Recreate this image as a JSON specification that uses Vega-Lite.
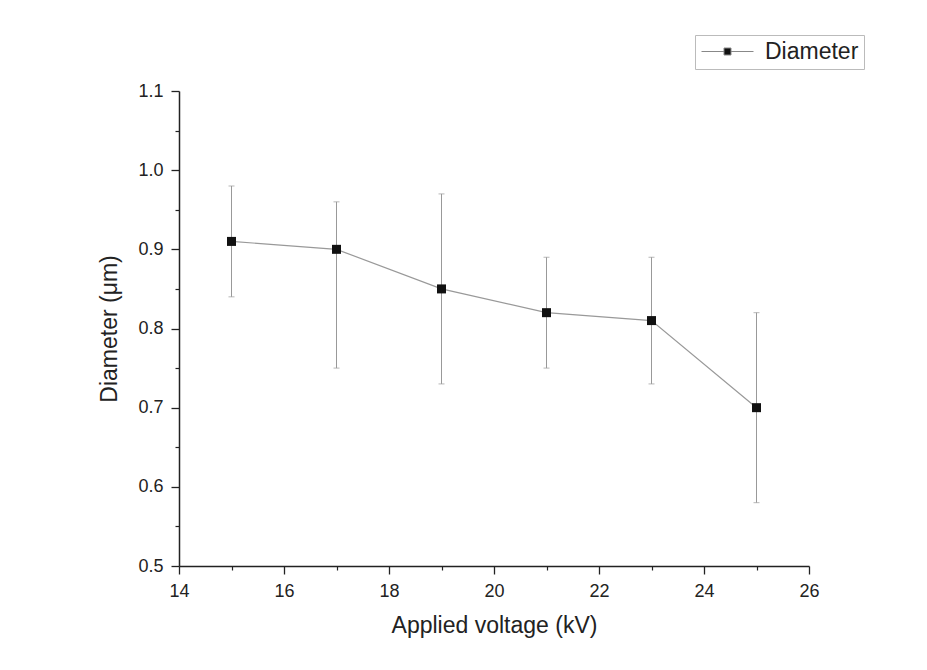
{
  "$schema": "https://vega.github.io/schema/vega-lite/v6.json",
  "width": 630,
  "height": 475,
  "autosize": {"type": "none"},
  "padding": {"left": 179, "top": 91, "right": 118, "bottom": 104},
  "background": "white",
  "config": {
    "view": {"stroke": null},
    "font": "Liberation Sans",
    "axis": {"grid": false, "labelFlush": false, "labelOverlap": false}
  },
  "data": {
    "values": [
      {"voltage": 15, "diameter": 0.91, "lower": 0.84, "upper": 0.98},
      {"voltage": 17, "diameter": 0.90, "lower": 0.75, "upper": 0.96},
      {"voltage": 19, "diameter": 0.85, "lower": 0.73, "upper": 0.97},
      {"voltage": 21, "diameter": 0.82, "lower": 0.75, "upper": 0.89},
      {"voltage": 23, "diameter": 0.81, "lower": 0.73, "upper": 0.89},
      {"voltage": 25, "diameter": 0.70, "lower": 0.58, "upper": 0.82}
    ]
  },
  "layer": [
    {
      "mark": {
        "type": "errorbar",
        "ticks": {"size": 6, "color": "#999", "strokeWidth": 1},
        "rule": {"color": "#999", "strokeWidth": 1}
      },
      "encoding": {
        "x": {
          "field": "voltage", "type": "quantitative",
          "scale": {"domain": [14, 26], "nice": false, "zero": false},
          "axis": {"orient": "bottom", "values": [15, 17, 19, 21, 23, 25], "labels": false, "domain": false, "tickSize": 4, "tickColor": "#222", "tickWidth": 1.2, "title": null}
        },
        "y": {
          "field": "lower", "type": "quantitative",
          "scale": {"domain": [0.5, 1.1], "nice": false, "zero": false},
          "axis": {"orient": "left", "values": [0.55, 0.65, 0.75, 0.85, 0.95, 1.05], "labels": false, "domain": false, "tickSize": 4, "tickColor": "#222", "tickWidth": 1.2, "title": null}
        },
        "y2": {"field": "upper"}
      }
    },
    {
      "mark": {"type": "line", "color": "#999", "strokeWidth": 1.2},
      "encoding": {
        "x": {
          "field": "voltage", "type": "quantitative",
          "axis": {"orient": "bottom", "values": [14, 16, 18, 20, 22, 24, 26], "tickSize": 8, "tickWidth": 1.3, "tickColor": "#222", "domainColor": "#222", "domainWidth": 1.5, "labelFontSize": 18, "labelColor": "#222", "labelPadding": 8, "title": "Applied voltage (kV)", "titleFontSize": 23, "titleFontWeight": "normal", "titleColor": "#222", "titlePadding": 14}
        },
        "y": {
          "field": "diameter", "type": "quantitative",
          "axis": {"orient": "left", "values": [0.5, 0.6, 0.7, 0.8, 0.9, 1.0, 1.1], "format": ".1f", "tickSize": 8, "tickWidth": 1.3, "tickColor": "#222", "domainColor": "#222", "domainWidth": 1.5, "labelFontSize": 18, "labelColor": "#222", "labelPadding": 8, "title": "Diameter (μm)", "titleFontSize": 23, "titleFontWeight": "normal", "titleColor": "#222", "titlePadding": 16}
        }
      }
    },
    {
      "mark": {"type": "point", "shape": "square", "filled": true, "size": 81, "opacity": 1},
      "encoding": {
        "x": {"field": "voltage", "type": "quantitative", "axis": null},
        "y": {"field": "diameter", "type": "quantitative", "axis": null},
        "color": {
          "datum": "Diameter", "type": "nominal",
          "scale": {"range": ["#111111"]},
          "legend": {
            "orient": "none", "legendX": 516, "legendY": -56, "title": null,
            "symbolType": "M-2.6,0H-0.35M0.35,0H2.6M-0.35,-0.35H0.35V0.35H-0.35Z",
            "symbolSize": 400, "symbolOffset": 16,
            "symbolStrokeColor": "#888", "symbolStrokeWidth": 1, "symbolFillColor": "#111",
            "labelFontSize": 23, "labelFont": "Liberation Sans", "labelColor": "#222", "labelOffset": 26,
            "padding": 5, "strokeColor": "#bbb",
            "encode": {"symbols": {"update": {"stroke": {"value": "#888"}, "strokeWidth": {"value": 1}, "fill": {"value": "#111"}}}}
          }
        }
      }
    }
  ],
  "resolve": {"axis": {"x": "independent", "y": "independent"}}
}
